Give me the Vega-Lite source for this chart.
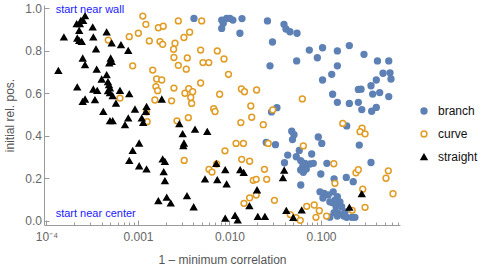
{
  "$schema": "https://vega.github.io/schema/vega-lite/v6.json",
  "width": 356,
  "height": 220,
  "autosize": {"type": "none"},
  "padding": {"left": 44, "top": 5, "right": 85, "bottom": 45},
  "background": "white",
  "config": {
    "view": {"stroke": null},
    "axis": {
      "grid": false,
      "domainColor": "#9a9a9a",
      "tickColor": "#9a9a9a",
      "labelColor": "#666666",
      "titleColor": "#555555",
      "labelFont": "Liberation Sans",
      "titleFont": "Liberation Sans",
      "labelFontSize": 12,
      "titleFontSize": 12,
      "titleFontWeight": "normal",
      "labelOverlap": false,
      "labelFlush": false,
      "labelBound": false
    },
    "legend": {
      "orient": "none",
      "legendX": 374,
      "legendY": 100,
      "padding": 0,
      "labelFont": "Liberation Sans",
      "labelFontSize": 12,
      "labelColor": "#111111",
      "symbolSize": 34,
      "symbolStrokeWidth": 1.5,
      "rowPadding": 11,
      "labelOffset": 8
    }
  },
  "layer": [
    {
      "data": {"values": [
        {"t":"branch","x":0.00409,"y":0.952},{"t":"branch","x":0.00822,"y":0.944},{"t":"branch","x":0.00855,"y":0.929},{"t":"branch","x":0.00822,"y":0.905},{"t":"branch","x":0.00931,"y":0.952},{"t":"branch","x":0.0101,"y":0.952},{"t":"branch","x":0.0109,"y":0.944},{"t":"branch","x":0.0137,"y":0.951},{"t":"branch","x":0.0130,"y":0.882},{"t":"branch","x":0.0260,"y":0.940},{"t":"branch","x":0.0394,"y":0.924},{"t":"branch","x":0.0414,"y":0.902},{"t":"branch","x":0.0458,"y":0.889},{"t":"branch","x":0.0547,"y":0.882},{"t":"branch","x":0.0295,"y":0.841},{"t":"branch","x":0.0277,"y":0.729},{"t":"branch","x":0.0542,"y":0.752},{"t":"branch","x":0.0745,"y":0.803},{"t":"branch","x":0.104,"y":0.814},{"t":"branch","x":0.151,"y":0.799},{"t":"branch","x":0.204,"y":0.824},{"t":"branch","x":0.295,"y":0.783},{"t":"branch","x":0.0912,"y":0.767},{"t":"branch","x":0.151,"y":0.729},{"t":"branch","x":0.131,"y":0.689},{"t":"branch","x":0.104,"y":0.662},{"t":"branch","x":0.414,"y":0.752},{"t":"branch","x":0.550,"y":0.752},{"t":"branch","x":0.476,"y":0.694},{"t":"branch","x":0.568,"y":0.696},{"t":"branch","x":0.582,"y":0.667},{"t":"branch","x":0.402,"y":0.662},{"t":"branch","x":0.352,"y":0.635},{"t":"branch","x":0.256,"y":0.618},{"t":"branch","x":0.274,"y":0.619},{"t":"branch","x":0.438,"y":0.603},{"t":"branch","x":0.367,"y":0.596},{"t":"branch","x":0.550,"y":0.584},{"t":"branch","x":0.134,"y":0.595},{"t":"branch","x":0.151,"y":0.557},{"t":"branch","x":0.204,"y":0.552},{"t":"branch","x":0.256,"y":0.557},{"t":"branch","x":0.279,"y":0.523},{"t":"branch","x":0.358,"y":0.515},{"t":"branch","x":0.402,"y":0.533},{"t":"branch","x":0.0330,"y":0.532},{"t":"branch","x":0.0288,"y":0.512},{"t":"branch","x":0.191,"y":0.446},{"t":"branch","x":0.0479,"y":0.421},{"t":"branch","x":0.0507,"y":0.405},{"t":"branch","x":0.0488,"y":0.382},{"t":"branch","x":0.0934,"y":0.394},{"t":"branch","x":0.102,"y":0.364},{"t":"branch","x":0.0252,"y":0.368},{"t":"branch","x":0.0318,"y":0.358},{"t":"branch","x":0.0433,"y":0.309},{"t":"branch","x":0.0399,"y":0.273},{"t":"branch","x":0.0537,"y":0.301},{"t":"branch","x":0.0579,"y":0.331},{"t":"branch","x":0.0600,"y":0.283},{"t":"branch","x":0.0631,"y":0.254},{"t":"branch","x":0.0668,"y":0.270},{"t":"branch","x":0.0691,"y":0.243},{"t":"branch","x":0.0758,"y":0.267},{"t":"branch","x":0.0824,"y":0.270},{"t":"branch","x":0.0641,"y":0.228},{"t":"branch","x":0.0600,"y":0.239},{"t":"branch","x":0.0791,"y":0.314},{"t":"branch","x":0.0995,"y":0.220},{"t":"branch","x":0.116,"y":0.270},{"t":"branch","x":0.262,"y":0.356},{"t":"branch","x":0.352,"y":0.274},{"t":"branch","x":0.189,"y":0.204},{"t":"branch","x":0.139,"y":0.197},{"t":"branch","x":0.225,"y":0.184},{"t":"branch","x":0.0601,"y":0.168},{"t":"branch","x":0.0975,"y":0.136},{"t":"branch","x":0.108,"y":0.129},{"t":"branch","x":0.120,"y":0.121},{"t":"branch","x":0.136,"y":0.136},{"t":"branch","x":0.151,"y":0.113},{"t":"branch","x":0.125,"y":0.089},{"t":"branch","x":0.142,"y":0.097},{"t":"branch","x":0.161,"y":0.089},{"t":"branch","x":0.146,"y":0.066},{"t":"branch","x":0.168,"y":0.066},{"t":"branch","x":0.183,"y":0.042},{"t":"branch","x":0.155,"y":0.035},{"t":"branch","x":0.139,"y":0.038},{"t":"branch","x":0.178,"y":0.022},{"t":"branch","x":0.191,"y":0.016},{"t":"branch","x":0.217,"y":0.016},{"t":"branch","x":0.235,"y":0.016},{"t":"branch","x":0.151,"y":0.022},{"t":"branch","x":0.134,"y":0.085},{"t":"branch","x":0.105,"y":0.107},{"t":"branch","x":0.125,"y":0.017},
        {"t":"curve","x":0.00113,"y":0.963},{"t":"curve","x":0.00122,"y":0.924},{"t":"curve","x":0.000803,"y":0.866},{"t":"curve","x":0.00101,"y":0.882},{"t":"curve","x":0.00133,"y":0.846},{"t":"curve","x":0.00167,"y":0.908},{"t":"curve","x":0.00189,"y":0.915},{"t":"curve","x":0.00276,"y":0.940},{"t":"curve","x":0.00497,"y":0.940},{"t":"curve","x":0.00367,"y":0.887},{"t":"curve","x":0.00318,"y":0.862},{"t":"curve","x":0.00174,"y":0.843},{"t":"curve","x":0.00186,"y":0.830},{"t":"curve","x":0.00254,"y":0.835},{"t":"curve","x":0.000473,"y":0.850},{"t":"curve","x":0.00245,"y":0.807},{"t":"curve","x":0.00247,"y":0.768},{"t":"curve","x":0.00276,"y":0.731},{"t":"curve","x":0.00346,"y":0.766},{"t":"curve","x":0.00337,"y":0.713},{"t":"curve","x":0.00484,"y":0.803},{"t":"curve","x":0.00736,"y":0.799},{"t":"curve","x":0.00513,"y":0.744},{"t":"curve","x":0.00594,"y":0.744},{"t":"curve","x":0.00871,"y":0.761},{"t":"curve","x":0.000875,"y":0.729},{"t":"curve","x":0.00145,"y":0.709},{"t":"curve","x":0.00160,"y":0.667},{"t":"curve","x":0.00182,"y":0.662},{"t":"curve","x":0.00247,"y":0.624},{"t":"curve","x":0.00157,"y":0.631},{"t":"curve","x":0.00164,"y":0.612},{"t":"curve","x":0.00153,"y":0.568},{"t":"curve","x":0.00233,"y":0.564},{"t":"curve","x":0.00326,"y":0.600},{"t":"curve","x":0.00359,"y":0.621},{"t":"curve","x":0.00396,"y":0.607},{"t":"curve","x":0.00377,"y":0.580},{"t":"curve","x":0.00386,"y":0.552},{"t":"curve","x":0.00484,"y":0.648},{"t":"curve","x":0.00975,"y":0.689},{"t":"curve","x":0.00781,"y":0.595},{"t":"curve","x":0.00672,"y":0.527},{"t":"curve","x":0.00695,"y":0.514},{"t":"curve","x":0.00267,"y":0.470},{"t":"curve","x":0.00355,"y":0.485},{"t":"curve","x":0.0135,"y":0.620},{"t":"curve","x":0.0146,"y":0.607},{"t":"curve","x":0.0198,"y":0.615},{"t":"curve","x":0.0171,"y":0.540},{"t":"curve","x":0.0297,"y":0.522},{"t":"curve","x":0.0625,"y":0.573},{"t":"curve","x":0.0133,"y":0.462},{"t":"curve","x":0.0175,"y":0.487},{"t":"curve","x":0.0234,"y":0.452},{"t":"curve","x":0.173,"y":0.458},{"t":"curve","x":0.281,"y":0.435},{"t":"curve","x":0.267,"y":0.419},{"t":"curve","x":0.303,"y":0.409},{"t":"curve","x":0.000636,"y":0.577},{"t":"curve","x":0.00124,"y":0.512},{"t":"curve","x":0.00126,"y":0.466},{"t":"curve","x":0.0118,"y":0.364},{"t":"curve","x":0.0142,"y":0.364},{"t":"curve","x":0.00893,"y":0.329},{"t":"curve","x":0.00320,"y":0.284},{"t":"curve","x":0.0136,"y":0.289},{"t":"curve","x":0.0166,"y":0.280},{"t":"curve","x":0.00724,"y":0.267},{"t":"curve","x":0.00597,"y":0.242},{"t":"curve","x":0.00644,"y":0.229},{"t":"curve","x":0.0241,"y":0.242},{"t":"curve","x":0.0182,"y":0.190},{"t":"curve","x":0.0196,"y":0.195},{"t":"curve","x":0.0255,"y":0.195},{"t":"curve","x":0.0196,"y":0.121},{"t":"curve","x":0.0166,"y":0.108},{"t":"curve","x":0.0144,"y":0.082},{"t":"curve","x":0.0310,"y":0.096},{"t":"curve","x":0.0265,"y":0.364},{"t":"curve","x":0.0641,"y":0.352},{"t":"curve","x":0.138,"y":0.268},{"t":"curve","x":0.142,"y":0.176},{"t":"curve","x":0.241,"y":0.226},{"t":"curve","x":0.256,"y":0.240},{"t":"curve","x":0.286,"y":0.148},{"t":"curve","x":0.303,"y":0.063},{"t":"curve","x":0.544,"y":0.235},{"t":"curve","x":0.513,"y":0.200},{"t":"curve","x":0.612,"y":0.127},{"t":"curve","x":0.219,"y":0.049},{"t":"curve","x":0.0698,"y":0.068},{"t":"curve","x":0.0843,"y":0.074},{"t":"curve","x":0.0958,"y":0.047},{"t":"curve","x":0.0881,"y":0.016},{"t":"curve","x":0.115,"y":0.022},{"t":"curve","x":0.0462,"y":0.029},{"t":"curve","x":0.0533,"y":0.014},{"t":"curve","x":0.0594,"y":0.002},
        {"t":"straight","x":0.000264,"y":0.963},{"t":"straight","x":0.000238,"y":0.941},{"t":"straight","x":0.000252,"y":0.941},{"t":"straight","x":0.000214,"y":0.926},{"t":"straight","x":0.000232,"y":0.926},{"t":"straight","x":0.000320,"y":0.910},{"t":"straight","x":0.000228,"y":0.894},{"t":"straight","x":0.000155,"y":0.863},{"t":"straight","x":0.000217,"y":0.858},{"t":"straight","x":0.000228,"y":0.847},{"t":"straight","x":0.000243,"y":0.842},{"t":"straight","x":0.000325,"y":0.863},{"t":"straight","x":0.000455,"y":0.887},{"t":"straight","x":0.000516,"y":0.835},{"t":"straight","x":0.000652,"y":0.827},{"t":"straight","x":0.000783,"y":0.800},{"t":"straight","x":0.000348,"y":0.807},{"t":"straight","x":0.000249,"y":0.764},{"t":"straight","x":0.000264,"y":0.733},{"t":"straight","x":0.000135,"y":0.706},{"t":"straight","x":0.000354,"y":0.712},{"t":"straight","x":0.000503,"y":0.764},{"t":"straight","x":0.000516,"y":0.748},{"t":"straight","x":0.000486,"y":0.741},{"t":"straight","x":0.000401,"y":0.665},{"t":"straight","x":0.000455,"y":0.686},{"t":"straight","x":0.000470,"y":0.653},{"t":"straight","x":0.000482,"y":0.639},{"t":"straight","x":0.000494,"y":0.624},{"t":"straight","x":0.000470,"y":0.610},{"t":"straight","x":0.000494,"y":0.601},{"t":"straight","x":0.000217,"y":0.628},{"t":"straight","x":0.000325,"y":0.618},{"t":"straight","x":0.000359,"y":0.612},{"t":"straight","x":0.000636,"y":0.612},{"t":"straight","x":0.000803,"y":0.596},{"t":"straight","x":0.000529,"y":0.587},{"t":"straight","x":0.000264,"y":0.571},{"t":"straight","x":0.000249,"y":0.560},{"t":"straight","x":0.000339,"y":0.568},{"t":"straight","x":0.000575,"y":0.552},{"t":"straight","x":0.000418,"y":0.513},{"t":"straight","x":0.000927,"y":0.524},{"t":"straight","x":0.00124,"y":0.536},{"t":"straight","x":0.00122,"y":0.513},{"t":"straight","x":0.00182,"y":0.571},{"t":"straight","x":0.000494,"y":0.469},{"t":"straight","x":0.000529,"y":0.469},{"t":"straight","x":0.000783,"y":0.482},{"t":"straight","x":0.000721,"y":0.450},{"t":"straight","x":0.00110,"y":0.482},{"t":"straight","x":0.00114,"y":0.461},{"t":"straight","x":0.00283,"y":0.455},{"t":"straight","x":0.00420,"y":0.429},{"t":"straight","x":0.00572,"y":0.419},{"t":"straight","x":0.00308,"y":0.408},{"t":"straight","x":0.00318,"y":0.364},{"t":"straight","x":0.00313,"y":0.352},{"t":"straight","x":0.00103,"y":0.364},{"t":"straight","x":0.000875,"y":0.329},{"t":"straight","x":0.000803,"y":0.282},{"t":"straight","x":0.00103,"y":0.257},{"t":"straight","x":0.00124,"y":0.242},{"t":"straight","x":0.00186,"y":0.289},{"t":"straight","x":0.00197,"y":0.278},{"t":"straight","x":0.00191,"y":0.229},{"t":"straight","x":0.00197,"y":0.187},{"t":"straight","x":0.00167,"y":0.093},{"t":"straight","x":0.00206,"y":0.109},{"t":"straight","x":0.00228,"y":0.082},{"t":"straight","x":0.00343,"y":0.116},{"t":"straight","x":0.00406,"y":0.064},{"t":"straight","x":0.00540,"y":0.195},{"t":"straight","x":0.00717,"y":0.268},{"t":"straight","x":0.00736,"y":0.192},{"t":"straight","x":0.00899,"y":0.239},{"t":"straight","x":0.00931,"y":0.172},{"t":"straight","x":0.00899,"y":0.011},{"t":"straight","x":0.0115,"y":0.024},{"t":"straight","x":0.0123,"y":0.002},{"t":"straight","x":0.0131,"y":0.239},{"t":"straight","x":0.0143,"y":0.226},{"t":"straight","x":0.0200,"y":0.144},{"t":"straight","x":0.0165,"y":0.069},{"t":"straight","x":0.0204,"y":0.019},{"t":"straight","x":0.0244,"y":0.019},{"t":"straight","x":0.0396,"y":0.237},{"t":"straight","x":0.0384,"y":0.201},{"t":"straight","x":0.0418,"y":0.047},{"t":"straight","x":0.0498,"y":0.014},{"t":"straight","x":0.0615,"y":0.049},{"t":"straight","x":0.204,"y":0.062},{"t":"straight","x":0.279,"y":0.126}
      ]},
      "mark": {"type": "point", "opacity": 1, "size": 34, "strokeWidth": 1.5},
      "encoding": {
        "x": {
          "field": "x", "type": "quantitative",
          "scale": {"type": "log", "domain": [0.000094, 0.73], "nice": false},
          "axis": {
            "title": "1 – minimum correlation",
            "values": [0.0001,0.0002,0.0003,0.0004,0.0005,0.0006,0.0007,0.0008,0.0009,0.001,0.002,0.003,0.004,0.005,0.006,0.007,0.008,0.009,0.01,0.02,0.03,0.04,0.05,0.06,0.07,0.08,0.09,0.1,0.2,0.3,0.4,0.5,0.6,0.7],
            "labelExpr": "abs(log(datum.value)/LN10 - round(log(datum.value)/LN10)) < 1e-6 ? (datum.value < 0.0005 ? '10⁻⁴' : format(datum.value, '.3f')) : ''",
            "tickSize": {"condition": {"test": "abs(log(datum.value)/LN10 - round(log(datum.value)/LN10)) < 1e-6", "value": -5}, "value": -3},
            "labelPadding": 11,
            "titlePadding": 10
          }
        },
        "y": {
          "field": "y", "type": "quantitative",
          "scale": {"domain": [-0.02, 1.015], "nice": false, "zero": false},
          "axis": {
            "title": "initial rel. pos.",
            "values": [0,0.05,0.1,0.15,0.2,0.25,0.3,0.35,0.4,0.45,0.5,0.55,0.6,0.65,0.7,0.75,0.8,0.85,0.9,0.95,1.0],
            "labelExpr": "abs(datum.value*5 - round(datum.value*5)) < 1e-6 ? format(datum.value, '.1f') : ''",
            "tickSize": {"condition": {"test": "abs(datum.value*5 - round(datum.value*5)) < 1e-6", "value": -5}, "value": -3},
            "labelPadding": 7.5,
            "titlePadding": 8
          }
        },
        "shape": {
          "field": "t", "type": "nominal", "title": null,
          "scale": {"domain": ["branch", "curve", "straight"], "range": ["circle", "circle", "triangle-up"]}
        },
        "fill": {
          "field": "t", "type": "nominal", "title": null,
          "scale": {"domain": ["branch", "curve", "straight"], "range": ["#5E81B5", "#ffffff", "#000000"]}
        },
        "stroke": {
          "field": "t", "type": "nominal", "title": null,
          "scale": {"domain": ["branch", "curve", "straight"], "range": ["#5E81B5", "#E19C24", "#000000"]}
        }
      }
    },
    {
      "data": {"values": [
        {"label": "start near wall", "x": 0.000126, "y": 0.991},
        {"label": "start near center", "x": 0.000126, "y": 0.033}
      ]},
      "mark": {"type": "text", "align": "left", "baseline": "middle", "color": "#1a1aff", "font": "Liberation Sans", "fontSize": 11},
      "encoding": {
        "x": {"field": "x", "type": "quantitative"},
        "y": {"field": "y", "type": "quantitative"},
        "text": {"field": "label"}
      }
    }
  ]
}
